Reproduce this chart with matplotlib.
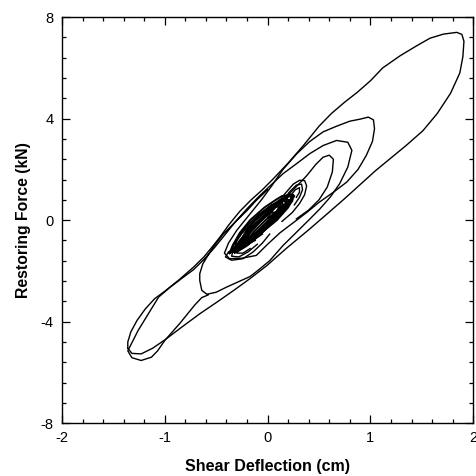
import matplotlib.pyplot as plt
from matplotlib.ticker import MultipleLocator

# hysteresis traces: (shear deflection cm, restoring force kN)
outer_loop = [(-1.36, -5.05), (-1.36, -4.80), (-1.33, -4.40), (-1.27, -3.95), (-1.19, -3.50),
              (-1.10, -3.10), (-1.00, -2.80), (-0.87, -2.38), (-0.72, -1.85), (-0.62, -1.45),
              (-0.54, -1.06), (-0.46, -0.65), (-0.38, -0.20), (-0.27, 0.35), (-0.16, 0.80),
              (-0.05, 1.20), (0.06, 1.65), (0.20, 2.25), (0.35, 2.95), (0.50, 3.70),
              (0.62, 4.20), (0.75, 4.65), (0.87, 5.03), (1.00, 5.49), (1.12, 6.00),
              (1.29, 6.48), (1.45, 6.87), (1.58, 7.17), (1.71, 7.33), (1.84, 7.40),
              (1.89, 7.32), (1.91, 7.05), (1.90, 6.45), (1.87, 5.80), (1.78, 5.00),
              (1.65, 4.20), (1.51, 3.52), (1.35, 2.95), (1.20, 2.45), (1.05, 1.95),
              (0.90, 1.40), (0.75, 0.85), (0.58, 0.25), (0.40, -0.38), (0.18, -1.12),
              (-0.01, -1.80), (-0.17, -2.30), (-0.33, -2.77), (-0.50, -3.25), (-0.66, -3.69),
              (-0.83, -4.20), (-1.00, -4.72), (-1.12, -5.05), (-1.23, -5.27), (-1.32, -5.25),
              (-1.36, -5.05)]

tip_loop = [(-0.58, -2.95), (-0.64, -3.05), (-0.71, -3.35), (-0.85, -4.05), (-1.00, -4.74),
            (-1.07, -5.15), (-1.13, -5.40), (-1.23, -5.53), (-1.32, -5.42), (-1.36, -5.15),
            (-1.31, -4.75), (-1.26, -4.35), (-1.16, -3.69), (-1.06, -3.03), (-0.95, -2.65),
            (-0.82, -2.25), (-0.72, -1.95), (-0.62, -1.55), (-0.52, -1.10), (-0.42, -0.60),
            (-0.32, -0.10), (-0.20, 0.45), (-0.08, 0.95), (0.05, 1.45), (0.15, 1.83),
            (0.28, 2.22), (0.41, 2.62), (0.54, 2.94), (0.67, 3.14), (0.78, 3.07),
            (0.82, 2.75), (0.78, 2.09), (0.70, 1.43), (0.61, 0.91), (0.51, 0.45),
            (0.40, 0.00), (0.30, -0.40), (0.15, -1.00), (0.02, -1.60), (-0.10, -2.00),
            (-0.17, -2.22), (-0.40, -2.64), (-0.50, -2.84), (-0.59, -2.92), (-0.64, -2.77),
            (-0.66, -2.38), (-0.66, -2.11), (-0.63, -1.72), (-0.53, -1.06), (-0.43, -0.54),
            (-0.30, -0.01), (-0.20, 0.38), (-0.11, 0.78), (0.00, 1.20)]

loop_4kn = [(-0.37, -1.52), (-0.42, -1.30), (-0.38, -0.90), (-0.30, -0.40), (-0.18, 0.20),
            (-0.06, 0.80), (0.04, 1.35), (0.15, 2.00), (0.28, 2.60), (0.41, 3.10),
            (0.54, 3.48), (0.67, 3.70), (0.80, 3.90), (0.90, 3.98), (0.98, 4.06),
            (1.03, 3.95), (1.04, 3.60), (1.02, 3.10), (0.96, 2.55), (0.88, 2.00),
            (0.77, 1.50), (0.64, 1.10), (0.50, 0.70), (0.38, 0.30), (0.25, -0.10),
            (0.12, -0.50), (0.00, -0.95), (-0.11, -1.39), (-0.25, -1.50), (-0.37, -1.52)]

loop_2p5kn = [(0.10, 0.60), (0.25, 1.20), (0.38, 1.75), (0.47, 2.20), (0.54, 2.48),
              (0.60, 2.56), (0.64, 2.40), (0.63, 1.90), (0.58, 1.30), (0.50, 0.80),
              (0.40, 0.40), (0.28, 0.05)]

ring_top_1 = [(0.00, 0.10), (0.08, 0.55), (0.17, 1.05), (0.25, 1.42), (0.31, 1.57),
              (0.36, 1.56), (0.38, 1.35), (0.36, 1.00), (0.31, 0.65), (0.24, 0.30),
              (0.14, -0.05)]
ring_top_2 = [(0.14, 0.70), (0.21, 1.10), (0.28, 1.38), (0.33, 1.42), (0.34, 1.20),
              (0.31, 0.90), (0.26, 0.60)]
ring_top_3 = [(0.22, 0.95), (0.27, 1.20), (0.31, 1.28), (0.31, 1.10), (0.28, 0.90)]

ring_low_1 = [(-0.05, -0.55), (-0.18, -0.90), (-0.30, -1.10), (-0.38, -1.25), (-0.41, -1.45),
              (-0.35, -1.58), (-0.24, -1.52), (-0.14, -1.25), (-0.05, -0.90), (0.02, -0.55)]
ring_low_2 = [(-0.12, -0.80), (-0.25, -1.05), (-0.34, -1.25), (-0.35, -1.42), (-0.28, -1.45),
              (-0.19, -1.25), (-0.10, -0.95)]
ring_low_3 = [(-0.18, -0.95), (-0.28, -1.15), (-0.30, -1.30), (-0.24, -1.30), (-0.17, -1.12)]

# dense small cycles in the middle
blob_1 = [(-0.37, -1.30), (-0.24, -1.00), (-0.06, -0.50), (0.09, 0.00), (0.20, 0.50),
          (0.24, 0.80), (0.22, 1.00), (0.14, 0.95), (0.08, 0.80), (-0.03, 0.50),
          (-0.17, 0.00), (-0.27, -0.50), (-0.34, -1.00), (-0.37, -1.30)]
blob_2 = [(-0.32, -1.10), (-0.18, -0.80), (-0.02, -0.30), (0.11, 0.20), (0.18, 0.60),
          (0.19, 0.85), (0.04, 0.60), (-0.09, 0.20), (-0.22, -0.30), (-0.30, -0.80),
          (-0.32, -1.10)]
blob_3 = [(-0.27, -0.90), (-0.11, -0.50), (0.04, 0.00), (0.12, 0.40), (0.13, 0.65),
          (0.00, 0.40), (-0.12, 0.00), (-0.22, -0.50), (-0.27, -0.90)]
blob_4 = [(-0.35, -1.20), (-0.21, -0.90), (-0.08, -0.45), (0.06, 0.05), (0.17, 0.50),
          (0.23, 0.85), (0.22, 0.95), (0.12, 0.80), (0.00, 0.45), (-0.13, -0.05),
          (-0.25, -0.50), (-0.33, -0.95), (-0.35, -1.20)]
blob_5 = [(-0.30, -1.05), (-0.17, -0.75), (-0.04, -0.25), (0.08, 0.25), (0.15, 0.60),
          (0.14, 0.72), (0.06, 0.55), (-0.06, 0.10), (-0.19, -0.40), (-0.28, -0.85),
          (-0.30, -1.05)]
blob_6 = [(-0.27, -0.95), (-0.14, -0.60), (-0.02, -0.15), (0.08, 0.30), (0.12, 0.55),
          (0.08, 0.52), (-0.03, 0.15), (-0.15, -0.30), (-0.24, -0.75), (-0.27, -0.95)]
blob_7 = [(-0.22, -0.80), (-0.10, -0.45), (0.01, 0.00), (0.07, 0.30), (0.03, 0.30),
          (-0.07, -0.05), (-0.17, -0.50), (-0.22, -0.80)]
blob_8 = [(-0.36, -1.25), (-0.28, -0.95), (-0.15, -0.40), (-0.02, 0.15), (0.10, 0.65),
          (0.18, 0.95), (0.25, 1.00), (0.24, 0.75), (0.14, 0.30), (0.02, -0.20),
          (-0.12, -0.70), (-0.22, -1.05), (-0.30, -1.25), (-0.36, -1.25)]
blob_9 = [(-0.33, -1.15), (-0.26, -0.80), (-0.14, -0.30), (-0.02, 0.20), (0.08, 0.60),
          (0.14, 0.80), (0.18, 0.70), (0.11, 0.30), (0.00, -0.20), (-0.13, -0.70),
          (-0.24, -1.05), (-0.33, -1.15)]
blob_10 = [(-0.32, -1.28), (-0.20, -1.00), (-0.06, -0.50), (0.08, 0.05), (0.19, 0.55),
           (0.26, 0.95), (0.22, 1.02), (0.12, 0.70), (-0.02, 0.20), (-0.16, -0.35),
           (-0.28, -0.90), (-0.34, -1.20), (-0.32, -1.28)]
blob_11 = [(-0.28, -1.15), (-0.15, -0.85), (-0.02, -0.35), (0.10, 0.15), (0.18, 0.55),
           (0.21, 0.80), (0.16, 0.80), (0.06, 0.45), (-0.08, -0.05), (-0.20, -0.55),
           (-0.29, -0.98), (-0.28, -1.15)]
blob_12 = [(-0.20, -0.90), (-0.08, -0.60), (0.03, -0.15), (0.11, 0.25), (0.08, 0.32),
           (-0.02, 0.00), (-0.13, -0.45), (-0.21, -0.82), (-0.20, -0.90)]

main_traces = [outer_loop, tip_loop, loop_4kn, loop_2p5kn,
               ring_top_1, ring_top_2, ring_top_3,
               ring_low_1, ring_low_2, ring_low_3]
blob_traces = [blob_1, blob_2, blob_3, blob_4, blob_5, blob_6,
               blob_7, blob_8, blob_9, blob_10, blob_11, blob_12]

x_ticks = [-2, -1, 0, 1, 2]
y_ticks = [-8, -4, 0, 4, 8]

plt.rcParams['font.family'] = ['Liberation Sans', 'DejaVu Sans']

fig = plt.figure(figsize=(4.77, 4.76), dpi=100)
ax = fig.add_axes([0.130, 0.111, 0.862, 0.853])

for tr in main_traces:
    ax.plot([p[0] for p in tr], [p[1] for p in tr], color='black', lw=1.0,
            solid_joinstyle='round')
# the centre cycles sit on top of each other and read as a nearly solid patch
for tr in blob_traces:
    ax.plot([p[0] for p in tr], [p[1] for p in tr], color='black', lw=1.4,
            solid_joinstyle='round')

ax.set_xlim(-2, 2)
ax.set_ylim(-8, 8)
ax.set_xticks(x_ticks)
ax.set_yticks(y_ticks)
ax.set_xticklabels([str(t) for t in x_ticks])
ax.set_yticklabels([str(t) for t in y_ticks])
ax.xaxis.set_minor_locator(MultipleLocator(0.2))
ax.yaxis.set_minor_locator(MultipleLocator(0.8))
ax.tick_params(which='both', direction='in', top=True, right=True, width=0.9)
ax.tick_params(which='major', length=6, labelsize=10.5, pad=6)
ax.tick_params(which='minor', length=3)
for sp in ax.spines.values():
    sp.set_linewidth(1.0)

ax.set_xlabel('Shear Deflection (cm)', fontsize=11.5, fontweight='bold', labelpad=10)
ax.set_ylabel('Restoring Force (kN)', fontsize=11.3, fontweight='bold', labelpad=7)

fig.savefig('out.png', dpi=100)
